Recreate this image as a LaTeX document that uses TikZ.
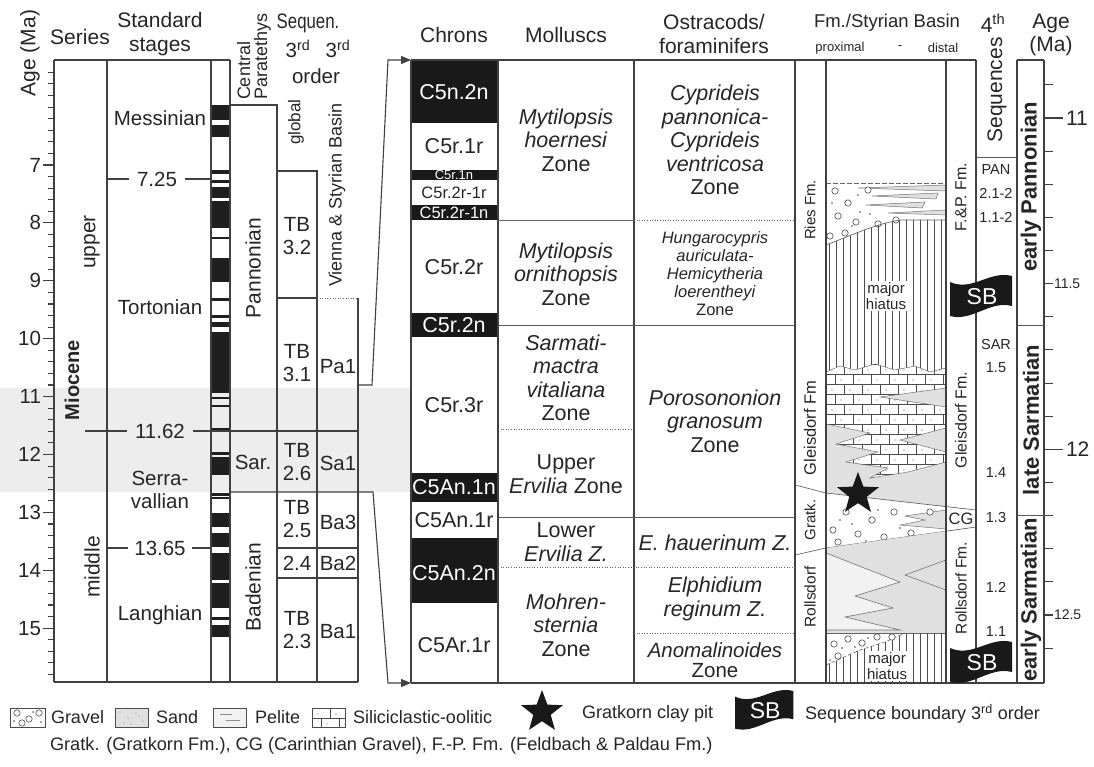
\documentclass[tikz,border=0pt]{standalone}
\usepackage{fontspec}
\setmainfont{Liberation Sans}
\usetikzlibrary{arrows.meta,shapes.geometric}
\newcommand\fz[2]{\fontsize{#1}{#2}\selectfont}
\newcommand\pb[2]{\draw[black!70,line width=0.6pt,fill=white] (#1,#2) circle (3.2);}
\newcommand\pd[2]{\fill[black!70] (#1,#2) circle (0.9);}
\newcommand\bricks[2]{%
 \foreach \j in {0,...,13}{%
   \pgfmathsetmacro\yy{#2+\j*10}%
   \pgfmathsetmacro\off{mod(\j,2)*9}%
   \draw[black!70,line width=0.6pt] (#1,\yy) -- (#1+135,\yy);
   \foreach \i in {0,...,7}{%
     \draw[black!70,line width=0.6pt] (#1+\i*18+\off,\yy) -- (#1+\i*18+\off,\yy+10);
     \fill[black!60] (#1+\i*18+\off+6,\yy+6) circle (0.6);
   }%
 }%
}
\newcommand\sbflag[4]{% x y scale name
  \begin{scope}[shift={(#1,#2)},scale=#3]
    \fill[black!90] (0,6) .. controls (22,16) and (40,-6) .. (62,0) -- (62,30) .. controls (40,24) and (22,46) .. (0,40) -- cycle;
    \node[text=white,font=\fz{23}{23}] (#4) at (32,21) {SB};
  \end{scope}}
\begin{document}
\begin{tikzpicture}[x=1pt,y=-1pt,
  every node/.style={inner sep=0pt,outer sep=0pt,text=black!85},
  ln/.style={draw=black!75,line width=1.1pt},
  ml/.style={draw=black!65,line width=0.9pt},
  tl/.style={draw=black!60,line width=0.7pt},
  dl/.style={draw=black!60,line width=0.8pt,dash pattern=on 1pt off 1.6pt},
  Lh/.style={font=\fz{21}{23.5},align=center},
  La/.style={font=\fz{20.5}{23},align=center},
  Lz/.style={font=\fz{21.5}{23.5},align=center},
  Lc/.style={font=\fz{21.5}{23}},
  Lw/.style={Lc,text=white},
  Ls/.style={font=\fz{14.5}{14.5}},
  Lb/.style={font=\fz{22}{22}\bfseries,rotate=90},
  Lg/.style={font=\fz{18}{18},anchor=west},
  hatchl/.style={draw=black!70,line width=0.6pt},
  arr/.style={ln,-{Triangle[length=10pt,width=8pt]}},
  sandf/.style={fill=black!12},
]
\useasboundingbox (0,0) rectangle (1094,767);
\fill[white] (0,0) rectangle (1094,767);
% highlighted interval
\fill[black!7] (0,388) rectangle (410,492);

%% ---------------- LEFT PART ----------------
\foreach \a/\b in {105/120,125/137,170/174,180/183,187/198,201/228,237/239,258/282,298/301,315/318,322/327,332/393,397/399,405/407,428/432,452/455,457/475,493/496,497/499,513/527,533/547,553/580,583/608,617/620,625/637}
  \fill[black!88] (211,\a) rectangle (230,\b);

\draw[ln] (54,60) -- (54,682);
\foreach \i in {0,...,52}{
  \pgfmathsetmacro\yy{165+(5.4+0.2*\i-7)*57.9}
  \draw[ln] (48,\yy) -- (54,\yy);
}
\foreach \v in {7,...,15}{
  \pgfmathsetmacro\yy{165+(\v-7)*57.9}
  \draw[ln] (43,\yy) -- (54,\yy);
  \node[La,anchor=east] (ax\v) at (41,\yy) {\v};
}
\draw[ln] (54,60) -- (230,60);
\draw[ln] (107,60) -- (107,682);
\draw[ln] (211,60) -- (211,682);
\draw[ln] (230,60) -- (230,682);
\draw[ln] (54,682) -- (358,682);
\draw[ln] (230,105) -- (277,105) -- (277,682);
\draw[ln] (277,171) -- (317,171) -- (317,682);
\draw[ln] (277,298) -- (317,298);
\draw[dl] (317,298) -- (358,298);
\draw[ln] (358,298) -- (358,682);
\draw[ln] (85,431) -- (127,431);
\draw[ln] (193,431) -- (358,431);
\draw[ln] (107,179) -- (129,179);
\draw[ln] (185,179) -- (211,179);
\draw[ln] (107,548) -- (128,548);
\draw[ln] (192,548) -- (211,548);
\draw[ln] (277,548) -- (358,548);
\draw[ln] (277,578) -- (358,578);

% connectors to expanded section
\coordinate (pa1r) at (358,385);
\coordinate (k1) at (372,385);
\coordinate (k2) at (388,60);
\coordinate (chTL) at (411,60);
\draw[arr] (pa1r) -- (k1) -- (k2) -- (chTL);
\coordinate (badl) at (230,492);
\coordinate (k3) at (373,492);
\coordinate (k4) at (388,683);
\coordinate (chBL) at (411,683);
\draw[arr] (badl) -- (k3) -- (k4) -- (chBL);

% headers left
\node[Lh,rotate=90] (hAge) at (30,53) {Age (Ma)};
\node[Lh] (hSeries) at (80,37) {Series};
\node[Lh] (hStages) at (160,34) {Standard\\stages};
\node[font=\fz{18}{17},rotate=90,anchor=west,align=left] (hCP) at (254,100) {Central\\Paratethys};
\node[Lh,xscale=0.8] (hSeq) at (308,23) {Sequen.};
\node[La] (h3a) at (298,49) {3\textsuperscript{rd}};
\node[La] (h3b) at (338,49) {3\textsuperscript{rd}};
\node[La] (hOrd) at (316,76) {order};
\node[font=\fz{17}{17},rotate=90] (hGlob) at (296,122) {global};
\node[font=\fz{18}{18},rotate=90] (hVSB) at (337,195) {Vienna \& Styrian Basin};

% series
\node[Lh,rotate=90] (sUp) at (92,242) {upper};
\node[font=\fz{20}{20}\bfseries,rotate=90] (sMio) at (72,380) {Miocene};
\node[Lh,rotate=90] (sMid) at (92,567) {middle};
% stages
\node[La] (stMes) at (160,118) {Messinian};
\node[La] (st725) at (157,179) {7.25};
\node[La] (stTor) at (160,307) {Tortonian};
\node[La] (st1162) at (160,431) {11.62};
\node[La] (stSer) at (160,490) {Serra-\\vallian};
\node[La] (st1365) at (160,548) {13.65};
\node[La] (stLan) at (160,615) {Langhian};
% central paratethys
\node[Lh,rotate=90] (pPan) at (253,268) {Pannonian};
\node[La] (pSar) at (253,462) {Sar.};
\node[Lh,rotate=90] (pBad) at (253,587) {Badenian};
% sequences
\node[La] (tb32) at (297,236) {TB\\3.2};
\node[La] (tb31) at (297,363) {TB\\3.1};
\node[La] (tb26) at (297,462) {TB\\2.6};
\node[La] (tb25) at (297,519) {TB\\2.5};
\node[La] (tb24) at (297,563) {2.4};
\node[La] (tb23) at (297,630) {TB\\2.3};
\node[La] (sPa1) at (338,367) {Pa1};
\node[La] (sSa1) at (338,463) {Sa1};
\node[La] (sBa3) at (338,522) {Ba3};
\node[La] (sBa2) at (338,563) {Ba2};
\node[La] (sBa1) at (338,632) {Ba1};

%% ---------------- MIDDLE PART ----------------
\foreach \a/\b in {60/123,170/180,205/220,313/337,473/502,538/603}
  \fill[black!90] (411,\a) rectangle (498,\b);
\node[Lh] (hChr) at (454,35) {Chrons};
\node[Lh] (hMol) at (566,35) {Molluscs};
\node[Lh] (hOst) at (714,34) {Ostracods/\\foraminifers};

\node[Lw] (c1) at (454,92) {C5n.2n};
\node[Lc] (c2) at (454,146) {C5r.1r};
\node[font=\fz{13}{13},text=white] (c3) at (454,175) {C5r.1n};
\node[font=\fz{16.5}{16.5}] (c4) at (454,193) {C5r.2r-1r};
\node[font=\fz{16.5}{16.5},text=white] (c5) at (454,213) {C5r.2r-1n};
\node[Lc] (c6) at (454,267) {C5r.2r};
\node[Lw] (c7) at (454,325) {C5r.2n};
\node[Lc] (c8) at (454,405) {C5r.3r};
\node[Lw] (c9) at (454,487) {C5An.1n};
\node[Lc] (c10) at (454,520) {C5An.1r};
\node[Lw] (c11) at (454,573) {C5An.2n};
\node[Lc] (c12) at (454,645) {C5Ar.1r};

\node[Lz] (m1) at (566,140) {\textit{Mytilopsis}\\\textit{hoernesi}\\Zone};
\node[Lz] (m2) at (566,274) {\textit{Mytilopsis}\\\textit{ornithopsis}\\Zone};
\node[Lz] (m3) at (566,378) {\textit{Sarmati-}\\\textit{mactra}\\\textit{vitaliana}\\Zone};
\node[Lz] (m4) at (566,474) {Upper\\\textit{Ervilia} Zone};
\node[Lz] (m5) at (566,542) {Lower\\\textit{Ervilia Z.}};
\node[Lz] (m6) at (566,625) {\textit{Mohren-}\\\textit{sternia}\\Zone};

\node[Lz] (o1) at (715,140) {\textit{Cyprideis}\\\textit{pannonica-}\\\textit{Cyprideis}\\\textit{ventricosa}\\Zone};
\node[font=\fz{16.5}{18},align=center] (o2) at (715,274) {\textit{Hungarocypris}\\\textit{auriculata-}\\\textit{Hemicytheria}\\\textit{loerentheyi}\\Zone};
\node[Lz] (o3) at (715,421) {\textit{Porosononion}\\\textit{granosum}\\Zone};
\node[Lz] (o4) at (715,543) {\textit{E. hauerinum Z.}};
\node[Lz] (o5) at (715,599) {\textit{Elphidium}\\\textit{reginum Z.}};
\node[font=\fz{20.5}{20.5},align=center] (o6) at (715,660) {\textit{Anomalinoides}\\Zone};

%% ---------------- RIGHT PART: lithology ----------------
% Ries Fm.
\draw[black!60,line width=0.6pt,dash pattern=on 5pt off 2pt] (826,183) -- (946,183);
\filldraw[sandf,draw=black!55,line width=0.5pt] (858,188) -- (946,185) -- (946,191) -- cycle;
\filldraw[sandf,draw=black!55,line width=0.5pt] (872,196) -- (938,193) -- (936,199) -- cycle;
\filldraw[sandf,draw=black!55,line width=0.5pt] (866,205) -- (925,202) -- (922,208) -- cycle;
\filldraw[sandf,draw=black!55,line width=0.5pt] (888,213) -- (946,210) -- (946,215) -- cycle;
\pb{835}{191}\pb{848}{203}\pb{838}{216}\pb{856}{222}\pb{868}{190}\pb{878}{224}\pb{896}{220}\pb{845}{233}\pb{830}{236}
\pd{832}{203}\pd{860}{212}\pd{858}{195}\pd{852}{226}\pd{870}{214}
% upper hiatus
\begin{scope}
\clip (826,245) .. controls (850,236) and (875,224) .. (900,220) -- (946,220) -- (946,368) -- (930,372) -- (915,366) -- (895,370) -- (875,364) -- (855,370) -- (840,366) -- (826,372) -- cycle;
\foreach \x in {829,836,...,945} \draw[hatchl] (\x,200) -- (\x,400);
\end{scope}
\draw[tl] (826,245) .. controls (850,236) and (875,224) .. (900,220) -- (946,220);
\node[font=\fz{15}{16},align=center,fill=white,inner sep=1pt] (hi1) at (886,296) {major\\hiatus};
% Gleisdorf: sand base, bricks
\fill[sandf] (826,372) -- (840,366) -- (855,370) -- (875,364) -- (895,370) -- (915,366) -- (930,372) -- (946,368) -- (946,507) -- (826,493) -- cycle;
\filldraw[fill=white,draw=black!55,line width=0.5pt] (826,372) -- (840,366) -- (855,370) -- (875,364) -- (895,370) -- (915,366) -- (930,372) -- (946,368) -- (946,388) -- (880,397) -- (946,407) -- (946,428) -- (900,440) -- (946,452) -- (946,462) -- (908,472) -- (870,478) -- (888,468) -- (846,462) -- (878,452) -- (836,444) -- (870,433) -- (826,424) -- cycle;
\begin{scope}
\clip (826,372) -- (840,366) -- (855,370) -- (875,364) -- (895,370) -- (915,366) -- (930,372) -- (946,368) -- (946,388) -- (880,397) -- (946,407) -- (946,428) -- (900,440) -- (946,452) -- (946,462) -- (908,472) -- (870,478) -- (888,468) -- (846,462) -- (878,452) -- (836,444) -- (870,433) -- (826,424) -- cycle;
\bricks{826}{364}
\end{scope}
% Gratkorn gravel wedge
\fill[white] (826,493) -- (946,506.6) -- (946,531.2) -- (826,548) -- cycle;
\filldraw[sandf,draw=black!55,line width=0.5pt] (946,510) -- (905,516) -- (925,520) -- (900,525) -- (946,529) -- cycle;
\pb{833}{530}\pb{846}{512}\pb{858}{534}\pb{872}{520}\pb{884}{537}\pb{894}{512}\pb{838}{542}\pb{911}{533}\pb{930}{512}
\pd{840}{520}\pd{852}{524}\pd{866}{541}\pd{878}{510}\pd{900}{528}
\draw[tl] (795,485) -- (826,493) -- (976,510);
\draw[tl] (795,555) -- (826,548) -- (976,527);
% Rollsdorf
\fill[sandf] (826,548) -- (946,531.2) -- (946,633) -- (826,633) -- cycle;
\filldraw[fill=black!5,draw=black!55,line width=0.6pt] (826,553) -- (900,582) -- (855,596) -- (893,608) -- (845,617) -- (900,630) -- (826,630) -- cycle;
\draw[black!55,line width=0.6pt] (946,560) -- (905,575) -- (946,590);
% bottom: gravel + hiatus
\draw[tl] (826,633) -- (946,633);
\begin{scope}
\clip (826,665) -- (860,650) -- (885,642) -- (905,633) -- (946,633) -- (946,683) -- (826,683) -- cycle;
\foreach \x in {829,836,...,945} \draw[hatchl] (\x,620) -- (\x,690);
\end{scope}
\draw[black!60,line width=0.6pt,dash pattern=on 4pt off 2pt] (826,665) -- (860,650) -- (885,642) -- (905,633);
\pb{834}{644}\pb{848}{639}\pb{862}{643}\pb{877}{637}\pb{838}{656}\pb{892}{637}
\pd{842}{648}\pd{855}{647}\pd{868}{638}\pd{830}{660}
\node[font=\fz{15}{16},align=center,fill=white,inner sep=1pt] (hi2) at (887,666) {major\\hiatus};
% star (Gratkorn clay pit)
\node[star,star points=5,star point ratio=2.4,fill=black!90,minimum size=44pt] (star1) at (858,494) {};

%% ---------------- RIGHT PART: frame ----------------
\draw[ln] (411,60) -- (976,60);
\draw[ln] (1017,60) -- (1044,60);
\draw[ln] (411,683) -- (1044,683);
\foreach \x in {411,498,634,795,826,946,976,1017,1044} \draw[ln] (\x,60) -- (\x,683);
\draw[tl] (498,220) -- (634,220);
\draw[dl] (634,220) -- (795,220);
\draw[ml] (498,325) -- (795,325);
\draw[dl] (498,429) -- (634,429);
\draw[ml] (498,517) -- (795,517);
\draw[dl] (498,567) -- (795,567);
\draw[dl] (634,633) -- (795,633);
\draw[ml] (976,157) -- (1017,157);
\draw[ml] (1017,325) -- (1044,325);
\draw[ml] (1017,515) -- (1044,515);

% right age ticks
\foreach \i in {0,...,17}{
  \pgfmathsetmacro\yy{118+(10.9+0.1*\i-11)*331.3}
  \draw[ln] (1044,\yy) -- (1053,\yy);
}
\draw[ln] (1044,118) -- (1063,118);
\draw[ln] (1044,449.3) -- (1063,449.3);
\node[font=\fz{21}{21},anchor=west] (r11) at (1066,118) {11};
\node[font=\fz{21}{21},anchor=west] (r12) at (1066,449.3) {12};
\node[font=\fz{14}{14},anchor=west] (r115) at (1054,283.7) {11.5};
\node[font=\fz{14}{14},anchor=west] (r125) at (1054,615) {12.5};

% headers right
\node[font=\fz{18.5}{18.5}] (hFm) at (887,23) {Fm./Styrian Basin};
\node[font=\fz{13}{13}] (hProx) at (840,48) {proximal};
\node[font=\fz{13}{13}] (hDash) at (900,48) {-};
\node[font=\fz{13}{13}] (hDist) at (943,48) {distal};
\node[Lh] (h4th) at (993,23) {4\textsuperscript{th}};
\node[Lh] (hAgeR) at (1051,35) {Age\\(Ma)};
\node[Lh,rotate=90] (hSeqs) at (997,90) {Sequences};

% formation labels
\node[font=\fz{15}{15},rotate=90] (fRies) at (810,210) {Ries Fm.};
\node[font=\fz{16.5}{16.5},rotate=90] (fGl) at (810,428) {Gleisdorf Fm};
\node[font=\fz{15}{15},rotate=90] (fGr) at (810,520) {Gratk.};
\node[font=\fz{15.5}{15.5},rotate=90] (fRo) at (810,597) {Rollsdorf};
\node[font=\fz{16}{16},rotate=90] (fFP) at (961,197) {F.\&P. Fm.};
\node[font=\fz{16}{16},rotate=90] (fGl2) at (961,420) {Gleisdorf Fm.};
\node[font=\fz{16.5}{16.5}] (fCG) at (961,519) {CG};
\node[font=\fz{15.5}{15.5},rotate=90] (fRo2) at (961,588) {Rollsdorf Fm.};

% 4th order sequences
\node[Ls] (qPAN) at (996,170) {PAN};
\node[Ls] (q212) at (996,193) {2.1-2};
\node[Ls] (q112) at (996,217) {1.1-2};
\node[Ls] (qSAR) at (996,345) {SAR};
\node[Ls] (q15) at (996,368) {1.5};
\node[Ls] (q14) at (996,473) {1.4};
\node[Ls] (q13) at (996,518) {1.3};
\node[Ls] (q12) at (996,587) {1.2};
\node[Ls] (q11) at (996,632) {1.1};
\sbflag{950}{276}{1}{sb1}
\sbflag{950}{642}{1}{sb2}

% stage labels right
\node[Lb] (aEP) at (1031,187) {early Pannonian};
\node[Lb] (aLS) at (1031,420) {late Sarmatian};
\node[Lb] (aES) at (1031,600) {early Sarmatian};

%% ---------------- LEGEND ----------------
\draw[black!70,line width=0.7pt,fill=white] (10,708) rectangle (45,727);
\pb{17}{713}\pb{29}{719}\pb{39}{713}\pb{22}{723}\pd{33}{712}\pd{14}{721}\pd{41}{722}
\draw[black!70,line width=0.7pt,sandf] (115,708) rectangle (148,727);
\foreach \px/\py in {120/712,128/718,136/713,143/721,124/723,139/716,131/724}
  \fill[black!45] (\px,\py) circle (0.6);
\draw[black!70,line width=0.7pt,fill=black!5] (213,708) rectangle (246,727);
\draw[black!45,line width=0.5pt] (220,714) -- (232,714) (226,720) -- (240,720);
\begin{scope}
\clip (312,708) rectangle (345,727);
\bricks{312}{708}
\end{scope}
\draw[black!70,line width=0.7pt] (312,708) rectangle (345,727);
\node[Lg] (lgGr) at (51,717) {Gravel};
\node[Lg] (lgSa) at (156,717) {Sand};
\node[Lg] (lgPe) at (255,717) {Pelite};
\node[Lg] (lgSi) at (353,717) {Siliciclastic-oolitic};
\node[star,star points=5,star point ratio=2.4,fill=black!90,minimum size=44pt] (lgStar) at (542,712) {};
\node[Lg] (lgSt) at (582,714) {Gratkorn clay pit};
\sbflag{735}{691}{0.94}{lgSB}
\node[Lg] (lgSB2) at (805,714) {Sequence boundary 3\textsuperscript{rd} order};
\node[font=\fz{18.2}{18.2},anchor=west] (lgAbb) at (50,746) {Gratk. (Gratkorn Fm.), CG (Carinthian Gravel), F.-P. Fm. (Feldbach \& Paldau Fm.)};
\end{tikzpicture}
\end{document}
